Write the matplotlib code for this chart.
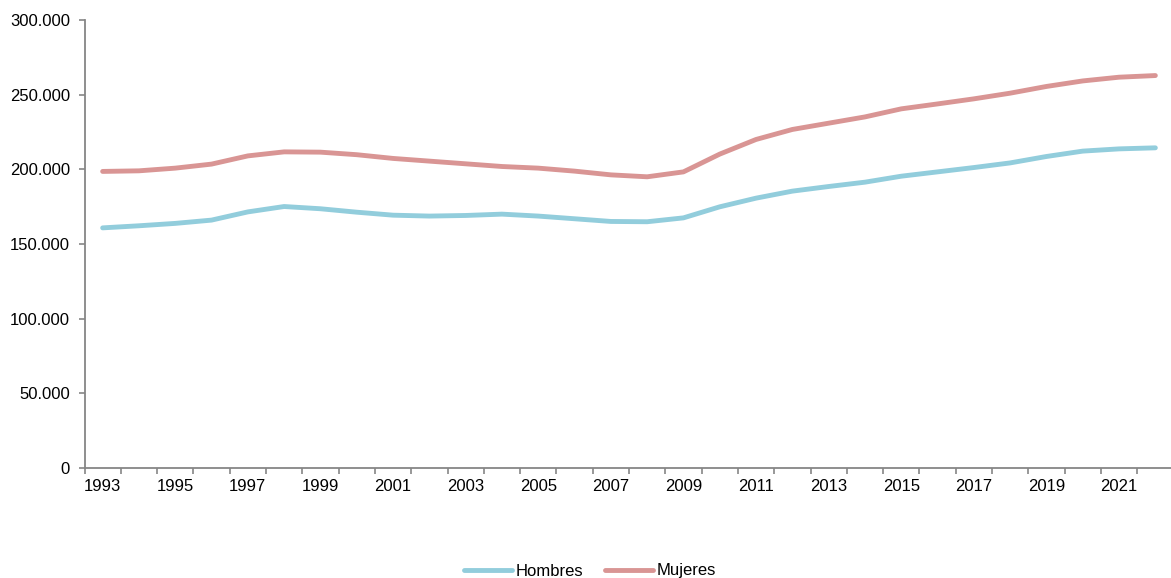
import matplotlib
matplotlib.use("Agg")
import matplotlib.pyplot as plt
from matplotlib.ticker import FuncFormatter, FixedLocator

plt.rcParams['font.family'] = ['Liberation Sans', 'DejaVu Sans']
plt.rcParams['font.size'] = 12

# data
years = list(range(1993, 2023))
hombres = [160800, 162200, 163800, 166000, 171500, 175100, 173600, 171300, 169300, 168700,
           169100, 170000, 168700, 166900, 165100, 164900, 167500, 174900, 180700, 185400,
           188500, 191400, 195400, 198300, 201200, 204300, 208600, 212200, 213700, 214400]
mujeres = [198600, 199000, 200800, 203500, 209000, 211700, 211500, 209800, 207300, 205500,
           203700, 201900, 200800, 198800, 196300, 195000, 198300, 210200, 220000, 226700,
           230900, 235100, 240500, 243800, 247200, 251000, 255500, 259200, 261700, 262800]
series_names = ["Hombres", "Mujeres"]
colors = ["#92CDDC", "#D99594"]
label_years = [y for y in years if y % 2 == 1]

fig = plt.figure(figsize=(11.71, 5.78), dpi=100)
ax = fig.add_axes([84.5 / 1171, 110 / 578, 1089 / 1171, 448 / 578])

for vals, name, c in zip([hombres, mujeres], series_names, colors):
    ax.plot(years, vals, color=c, lw=3.5, solid_capstyle="round", label=name)

ax.set_xlim(years[0] - 0.5, years[-1] + 0.5)
ax.set_ylim(0, 300000)

# category style axis: ticks between years, labels on odd years
ax.xaxis.set_major_locator(FixedLocator([y - 0.5 for y in years] + [years[-1] + 0.5]))
ax.xaxis.set_major_formatter(FuncFormatter(lambda v, p: ""))
ax.xaxis.set_minor_locator(FixedLocator(label_years))
ax.xaxis.set_minor_formatter(FuncFormatter(lambda v, p: f"{int(round(v))}"))
ax.tick_params(axis="x", which="major", length=4, width=1.2, color="#868686", direction="out")
ax.tick_params(axis="x", which="minor", length=0, pad=8, labelsize=12)

ax.set_yticks(range(0, 300001, 50000))
ax.yaxis.set_major_formatter(FuncFormatter(lambda v, p: f"{int(v):,}".replace(",", ".")))
ax.tick_params(axis="y", length=4, width=1.2, color="#868686", pad=6.5, labelsize=12)

for s in ["top", "right"]:
    ax.spines[s].set_visible(False)
for s in ["left", "bottom"]:
    ax.spines[s].set_color("#868686")
    ax.spines[s].set_linewidth(1.3)

fig.legend(loc="center", bbox_to_anchor=(590 / 1171, 1 - 571 / 578), ncol=2, frameon=False,
           handlelength=2.9, handletextpad=0.2, columnspacing=1.3, fontsize=12)

fig.savefig("out.png", dpi=100)
